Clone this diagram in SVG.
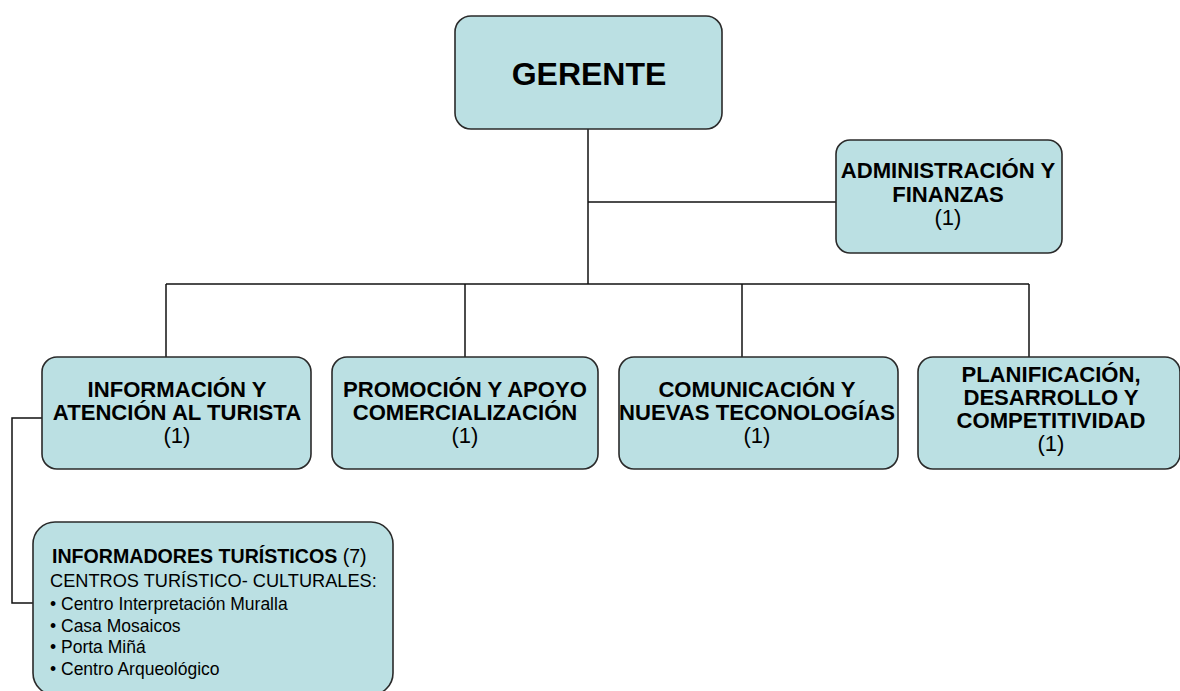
<svg xmlns="http://www.w3.org/2000/svg" width="1180" height="691" viewBox="0 0 1180 691">
<style>
.box{fill:#BBE0E3;stroke:#2a2a2a;stroke-width:1.6}
.ln{fill:none;stroke:#111;stroke-width:1.5}
.t{font-family:"Liberation Sans",Arial,sans-serif;fill:#000;text-anchor:middle}
.b{font-weight:bold;font-size:22.1px}
.r{font-size:22px}
.l{font-family:"Liberation Sans",Arial,sans-serif;fill:#000}
</style>
<rect width="1180" height="691" fill="#fff"/>
<g id="connectors">
<path class="ln" d="M588,129 V284"/>
<path class="ln" d="M588,202 H836"/>
<path class="ln" d="M166,284 H1029"/>
<path class="ln" d="M166,284 V357"/>
<path class="ln" d="M465,284 V357"/>
<path class="ln" d="M742,284 V357"/>
<path class="ln" d="M1029,284 V357"/>
<path class="ln" d="M42,418 H12 V603 H33"/>
</g>
<g id="gerente">
<rect class="box" x="455" y="16" width="267" height="113" rx="16"/>
<text class="t" x="589" y="85" font-weight="bold" font-size="32">GERENTE</text>
</g>
<g id="administracion">
<rect class="box" x="836" y="140" width="226" height="113" rx="14"/>
<text class="t b" x="948" y="178">ADMINISTRACIÓN Y</text>
<text class="t b" x="948" y="202">FINANZAS</text>
<text class="t r" x="948" y="225">(1)</text>
</g>
<g id="informacion">
<rect class="box" x="42" y="357" width="269" height="112" rx="15"/>
<text class="t b" x="177" y="397">INFORMACIÓN Y</text>
<text class="t b" x="177" y="420">ATENCIÓN AL TURISTA</text>
<text class="t r" x="177" y="443">(1)</text>
</g>
<g id="promocion">
<rect class="box" x="332" y="357" width="266" height="112" rx="15"/>
<text class="t b" x="465" y="397">PROMOCIÓN Y APOYO</text>
<text class="t b" x="465" y="420">COMERCIALIZACIÓN</text>
<text class="t r" x="465" y="443">(1)</text>
</g>
<g id="comunicacion">
<rect class="box" x="619" y="357" width="279" height="112" rx="15"/>
<text class="t b" x="757" y="397">COMUNICACIÓN Y</text>
<text class="t b" x="757" y="420">NUEVAS TECONOLOGÍAS</text>
<text class="t r" x="757" y="443">(1)</text>
</g>
<g id="planificacion">
<rect class="box" x="918" y="357" width="262" height="112" rx="15"/>
<text class="t b" x="1051" y="382">PLANIFICACIÓN,</text>
<text class="t b" x="1051" y="405">DESARROLLO Y</text>
<text class="t b" x="1051" y="428">COMPETITIVIDAD</text>
<text class="t r" x="1051" y="451">(1)</text>
</g>
<g id="informadores">
<rect class="box" x="33" y="522" width="360" height="173" rx="22"/>
<text class="l" x="52" y="563" font-size="19.6"><tspan font-weight="bold">INFORMADORES TURÍSTICOS</tspan> (7)</text>
<text class="l" x="50" y="587" font-size="18.2">CENTROS TURÍSTICO- CULTURALES:</text>
<text class="l" x="50" y="610" font-size="17.5">• Centro Interpretación Muralla</text>
<text class="l" x="50" y="632" font-size="17.5">• Casa Mosaicos</text>
<text class="l" x="50" y="653" font-size="17.5">• Porta Miñá</text>
<text class="l" x="50" y="675" font-size="17.5">• Centro Arqueológico</text>
</g>
</svg>
